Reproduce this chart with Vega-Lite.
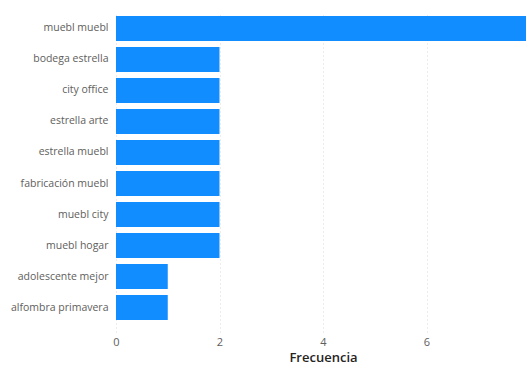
{
  "$schema": "https://vega.github.io/schema/vega-lite/v6.json",
  "autosize": "none",
  "width": 414,
  "height": 320,
  "padding": {"left": 116, "top": 12, "right": 0, "bottom": 34},
  "background": "white",
  "config": {"view": {"stroke": null}, "font": "Open Sans"},
  "data": {
    "values": [
      {"termino": "muebl muebl", "frecuencia": 8},
      {"termino": "bodega estrella", "frecuencia": 2},
      {"termino": "city office", "frecuencia": 2},
      {"termino": "estrella arte", "frecuencia": 2},
      {"termino": "estrella muebl", "frecuencia": 2},
      {"termino": "fabricación muebl", "frecuencia": 2},
      {"termino": "muebl city", "frecuencia": 2},
      {"termino": "muebl hogar", "frecuencia": 2},
      {"termino": "adolescente mejor", "frecuencia": 1},
      {"termino": "alfombra primavera", "frecuencia": 1}
    ]
  },
  "mark": {"type": "bar", "color": "#118DFF"},
  "encoding": {
    "y": {
      "field": "termino",
      "type": "nominal",
      "sort": null,
      "scale": {"paddingInner": 0.194, "paddingOuter": 0.258, "align": 0.25},
      "axis": {
        "title": null,
        "domain": false,
        "ticks": false,
        "labelPadding": 8,
        "labelFontSize": 10.5,
        "labelColor": "#605E5C",
        "labelFont": "Open Sans"
      }
    },
    "x": {
      "field": "frecuencia",
      "type": "quantitative",
      "scale": {"domain": [0, 8], "nice": false},
      "axis": {
        "title": "Frecuencia",
        "values": [0, 2, 4, 6],
        "domain": false,
        "ticks": false,
        "grid": true,
        "gridColor": "#D9D9D9",
        "gridDash": [1, 3],
        "labelFlush": false,
        "labelPadding": 4,
        "labelFontSize": 11,
        "labelColor": "#605E5C",
        "titleFontSize": 13,
        "titleFontWeight": 600,
        "titleColor": "#252423",
        "titlePadding": 4
      }
    }
  }
}
